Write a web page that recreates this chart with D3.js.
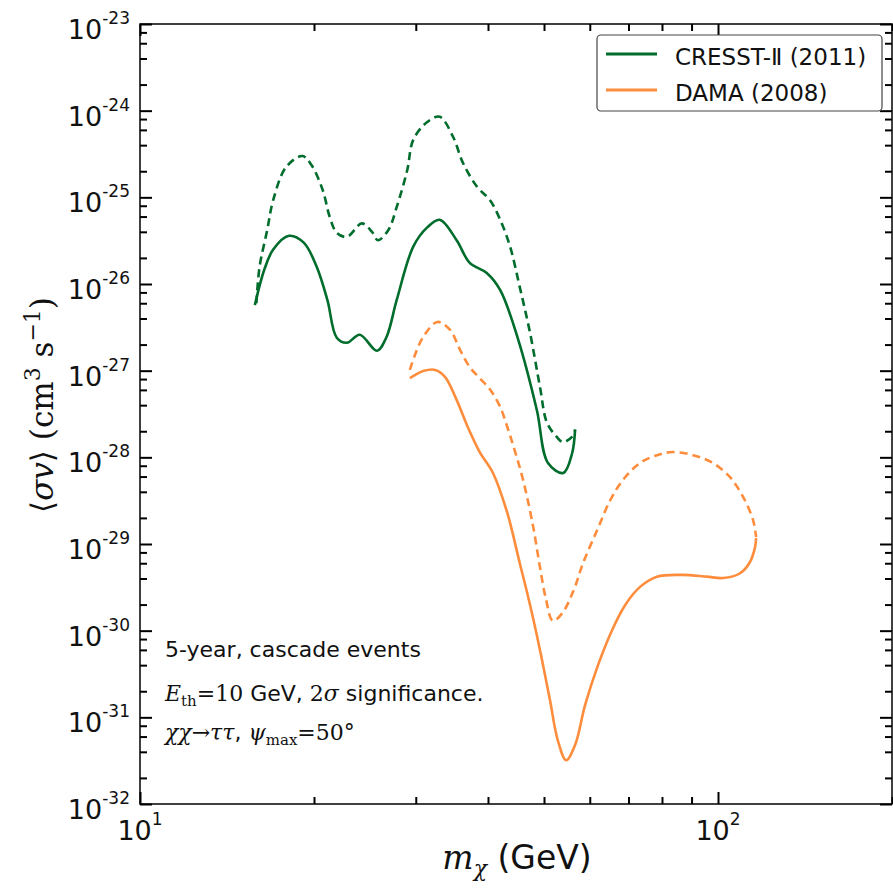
<!DOCTYPE html>
<meta charset="utf-8">
<style>
body {
    margin: 0;
    background: #fff;
}
text {
    font-family: "DejaVu Sans", sans-serif;
    fill: #111;
}
.serif {
    font-family: "DejaVu Serif", serif;
}
.it {
    font-family: "DejaVu Serif", serif;
    font-style: italic;
}
.curve {
    fill: none;
    stroke-width: 2.6px;
    stroke-linejoin: round;
}
.dash {
    stroke-dasharray: 8, 5;
}
.tick line {
    stroke: #000;
    stroke-width: 2px;
}
</style>
<svg width="893" height="888"></svg>

<script src="https://d3js.org/d3.v7.min.js"></script>
<script>
// curves are contours in (mass GeV, <sigma v> cm^3/s)
let cresstSolid = [
    [15.8, 5.7e-27], [16.4, 1.45e-26], [17.0, 2.5e-26], [18.1, 3.6e-26], [19.2, 3.0e-26],
    [20.2, 1.6e-26], [21.1, 6.5e-27], [21.9, 2.4e-27], [22.8, 2.1e-27], [24.0, 2.6e-27],
    [25.7, 1.7e-27], [26.7, 2.45e-27], [27.8, 6.5e-27], [29.7, 2.7e-26], [31.4, 4.5e-26],
    [33.0, 5.5e-26], [35.3, 3.2e-26], [37.2, 1.75e-26], [39.8, 1.34e-26], [42.0, 8.5e-27],
    [45.1, 2.3e-27], [48.6, 3.5e-28], [50.8, 8.6e-29], [54.0, 6.6e-29], [55.9, 1.1e-28],
    [56.6, 2.1e-28]
];
let cresstDashed = [
    [15.9, 6.0e-27], [16.1, 1.57e-26], [16.6, 4.2e-26], [17.0, 9.3e-26], [17.9, 2.24e-25],
    [19.1, 3.0e-25], [19.8, 2.36e-25], [20.7, 1.22e-25], [21.3, 5.9e-26], [21.9, 3.9e-26],
    [22.8, 3.5e-26], [24.2, 5.0e-26], [25.2, 4.0e-26], [25.8, 3.2e-26], [26.9, 4.2e-26],
    [27.8, 7.7e-26], [29.0, 2.07e-25], [29.7, 4.6e-25], [31.4, 7.4e-25], [33.0, 8.5e-25],
    [34.8, 5.0e-25], [36.2, 2.5e-25], [38.3, 1.32e-25], [40.3, 9.3e-26], [42.0, 5.5e-26],
    [43.7, 2.67e-26], [45.4, 9.2e-27], [47.3, 2.72e-27], [49.2, 6.5e-28], [50.6, 2.5e-28],
    [52.6, 1.72e-28], [53.9, 1.5e-28], [55.9, 1.72e-28], [56.6, 2.07e-28]
];
let damaSolid = [
    [29.3, 8.2e-28], [29.9, 8.9e-28], [30.9, 9.9e-28], [32.4, 1.02e-27], [33.7, 8.5e-28],
    [35.3, 4.6e-28], [36.9, 2.24e-28], [38.7, 1.15e-28], [40.8, 6.6e-29], [43.2, 2.28e-29],
    [45.4, 6.0e-30], [47.3, 1.98e-30], [49.2, 6.0e-31], [51.2, 1.58e-31], [52.8, 5.5e-32],
    [54.6, 3.2e-32], [56.6, 4.8e-32], [58.9, 1.39e-31], [62.0, 4.0e-31], [65.6, 1.02e-30],
    [69.1, 1.98e-30], [73.3, 3.2e-30], [78.4, 4.2e-30], [86.9, 4.4e-30], [95.6, 4.2e-30],
    [102.0, 4.05e-30], [109.2, 4.6e-30], [113.6, 6.2e-30], [115.9, 9.2e-30], [116.4, 1.17e-29]
];
let damaDashed = [
    [29.3, 1.02e-27], [29.9, 1.52e-27], [30.9, 2.45e-27], [32.7, 3.65e-27], [34.4, 2.95e-27],
    [35.8, 1.73e-27], [37.2, 1.1e-27], [38.7, 8.2e-28], [40.3, 6.1e-28], [42.0, 3.8e-28],
    [43.2, 2.24e-28], [44.2, 1.39e-28], [46.0, 5.5e-29], [47.9, 1.57e-29], [49.2, 5.4e-30],
    [50.4, 2.3e-30], [51.8, 1.3e-30], [53.8, 1.6e-30], [56.3, 2.95e-30], [58.4, 6.0e-30],
    [61.8, 1.45e-29], [65.1, 3.2e-29], [68.5, 5.5e-29], [73.3, 8.6e-29], [78.4, 1.06e-28],
    [83.5, 1.15e-28], [90.5, 1.06e-28], [98.0, 8.6e-29], [104.9, 5.9e-29], [110.5, 3.5e-29],
    [115.0, 1.89e-29], [116.4, 1.2e-29]
];

let seriesNames = ['CRESST-Ⅱ (2011)', 'DAMA (2008)'];
let seriesColors = ['#006d2c', '#fd8d3c'];

let xMajor = [10, 100];
let xMinor = [20, 30, 40, 50, 60, 70, 80, 90, 200];
let yExponents = d3.range(-32, -22);
let yMinorSubs = [2, 4, 6, 8];

let svg = d3.select('svg');
let pLeft = 140, pRight = 892, pTop = 24, pBottom = 804;

let x = d3.scaleLog().domain([10, 200]).range([pLeft, pRight]);
let y = d3.scaleLog().domain([1e-32, 1e-23]).range([pBottom, pTop]);

let yMajor = yExponents.map(e => Math.pow(10, e));
let yMinor = [];
yExponents.slice(0, -1).forEach(e => yMinorSubs.forEach(s => yMinor.push(s * Math.pow(10, e))));

// ticks, all pointing inward
function ticks(axis, scale, vals, size, tr) {
    let g = svg.append('g')
        .attr('transform', tr)
        .call(axis(scale).tickValues(vals).tickSize(size).tickFormat(''));
    g.select('.domain').remove();
}
ticks(d3.axisBottom, x, xMajor, -12, `translate(0,${pBottom})`);
ticks(d3.axisBottom, x, xMinor, -7, `translate(0,${pBottom})`);
ticks(d3.axisTop, x, xMajor, -12, `translate(0,${pTop})`);
ticks(d3.axisTop, x, xMinor, -7, `translate(0,${pTop})`);
ticks(d3.axisLeft, y, yMajor, -12, `translate(${pLeft},0)`);
ticks(d3.axisLeft, y, yMinor, -7, `translate(${pLeft},0)`);
ticks(d3.axisRight, y, yMajor, -12, `translate(${pRight},0)`);
ticks(d3.axisRight, y, yMinor, -7, `translate(${pRight},0)`);

svg.append('rect')
    .attr('x', pLeft).attr('y', pTop)
    .attr('width', pRight - pLeft).attr('height', pBottom - pTop)
    .attr('fill', 'none').attr('stroke', '#000').attr('stroke-width', 1.5);

// tick labels
yExponents.forEach(e => {
    let t = svg.append('text')
        .attr('x', 130).attr('y', y(Math.pow(10, e)) + 15)
        .attr('text-anchor', 'end')
        .style('font-size', '27px');
    t.append('tspan').text('10');
    t.append('tspan').attr('dy', -15).style('font-size', '17px').text('-' + (-e));
});
xMajor.forEach(v => {
    let t = svg.append('text')
        .attr('x', x(v)).attr('y', 840)
        .attr('text-anchor', 'middle')
        .style('font-size', '27px');
    t.append('tspan').text('10');
    t.append('tspan').attr('dy', -15).style('font-size', '17px').text(Math.round(Math.log10(v)));
});

// curves
let line = d3.line()
    .x(d => x(d[0]))
    .y(d => y(d[1]))
    .curve(d3.curveCatmullRom.alpha(0.5));

[[cresstDashed, 0, true], [cresstSolid, 0, false], [damaDashed, 1, true], [damaSolid, 1, false]]
    .forEach(([data, i, dashed]) => {
        svg.append('path')
            .datum(data)
            .attr('class', dashed ? 'curve dash' : 'curve')
            .attr('stroke', seriesColors[i])
            .attr('d', line);
    });

// legend
let lg = svg.append('g');
lg.append('rect')
    .attr('x', 597).attr('y', 35).attr('width', 285).attr('height', 76).attr('rx', 4)
    .attr('fill', '#fff').attr('stroke', '#444').attr('stroke-width', 1.2);
seriesNames.forEach((name, i) => {
    let yy = 54 + i * 36;
    lg.append('line')
        .attr('x1', 606).attr('x2', 657).attr('y1', yy).attr('y2', yy)
        .attr('stroke', seriesColors[i]).attr('stroke-width', 3);
    lg.append('text')
        .attr('x', 675).attr('y', yy + 11)
        .style('font-size', '23px')
        .text(name);
});

// annotation
function rich(xx, yy, parts, size) {
    let t = svg.append('text').attr('x', xx).attr('y', yy).style('font-size', size + 'px');
    let shift = 0;
    parts.forEach(p => {
        let s = t.append('tspan').text(p[0]);
        if (p[1]) s.attr('class', p[1]);
        let want = p[2] || 0;
        if (want !== shift) { s.attr('dy', want - shift); shift = want; }
        if (p[3]) s.style('font-size', p[3] + 'px');
    });
    return t;
}
rich(165, 657, [['5-year, cascade events']], 22);
rich(165, 701, [
    ['E', 'it'], ['th', 'serif', 5, 15], ['=10', 'serif', 0], [' GeV, '],
    ['2', 'serif'], ['σ', 'it'], [' significance.']
], 22);
rich(165, 740, [
    ['χχ', 'it'], ['→', 'serif'], ['ττ', 'it'], [', '], ['ψ', 'it'],
    ['max', 'serif', 5, 15], ['=50°', 'serif', 0]
], 22);

// axis titles
rich(517, 869, [['m', 'it'], ['χ', 'it', 7, 22], [' (GeV)', null, 0]], 33)
    .attr('text-anchor', 'middle');

rich(0, 0, [
    ['⟨', 'serif'], ['σv', 'it'], ['⟩ (cm', 'serif'], ['3', 'serif', -13, 22],
    [' s', 'serif', 0], ['−1', 'serif', -13, 22], [')', 'serif', 0]
], 31)
    .attr('text-anchor', 'middle')
    .attr('transform', 'translate(53,405) rotate(-90)');
</script>
